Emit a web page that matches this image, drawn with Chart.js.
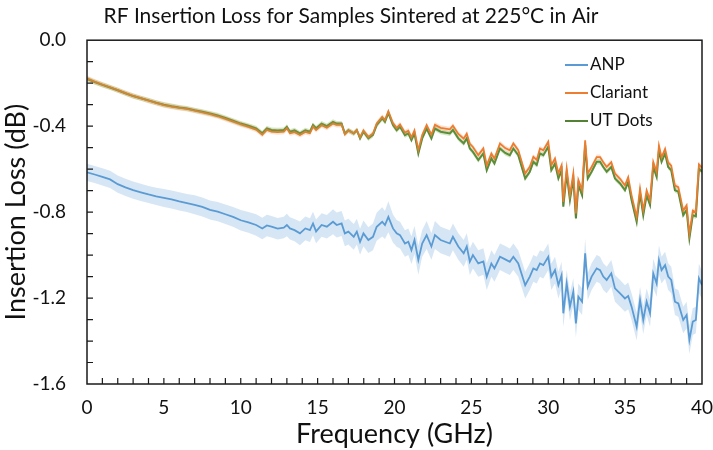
<!DOCTYPE html>
<html>
<head>
<meta charset="utf-8">
<script src="https://cdn.jsdelivr.net/npm/chart.js@4.4.1/dist/chart.umd.min.js"></script>
<style>
  html, body { margin: 0; padding: 0; background: #fff; }
  #wrap { width: 713px; height: 450px; }
</style>
</head>
<body>
<div id="wrap"><canvas id="lossChart"></canvas></div>
<script>
// frequency points (GHz)
const freq = [
  0, 0.5, 1, 1.5, 2, 2.5, 3, 3.5, 4, 4.5,
  5, 5.5, 6, 6.5, 7, 7.5, 8, 8.5, 9, 9.5,
  10, 10.5, 11, 11.4, 11.7, 12, 12.4, 12.8, 13, 13.2,
  13.5, 13.85, 14.2, 14.5, 14.7, 14.9, 15.26, 15.6, 16, 16.24,
  16.56, 16.77, 17, 17.35, 17.55, 17.76, 17.98, 18.3, 18.6, 18.84,
  19.2, 19.38, 19.6, 19.9, 20.14, 20.36, 20.68, 20.9, 21.1, 21.3,
  21.55, 21.8, 22.09, 22.4, 22.63, 23, 23.6, 23.8, 24.15, 24.5,
  24.7, 24.9, 25.1, 25.45, 25.78, 26, 26.3, 26.5, 26.86, 27.2,
  27.5, 27.73, 28.05, 28.5, 28.8, 29.03, 29.25, 29.46, 29.68, 30,
  30.2, 30.44, 30.66, 30.87, 30.98, 31.2, 31.41, 31.63, 31.8, 31.96,
  32.2, 32.4, 32.57, 32.82, 33.15, 33.37, 33.58, 33.8, 34.1, 34.34,
  34.67, 34.99, 35.2, 35.42, 35.75, 35.97, 36.18, 36.4, 36.62, 36.83,
  37.05, 37.2, 37.37, 37.6, 37.8, 38, 38.24, 38.46, 38.78, 39,
  39.18, 39.4, 39.6, 39.8, 40
];

const anp = [
  -0.615, -0.625, -0.636, -0.648, -0.670, -0.685, -0.698, -0.708, -0.718, -0.727,
  -0.734, -0.741, -0.750, -0.758, -0.766, -0.776, -0.790, -0.798, -0.810, -0.822,
  -0.838, -0.848, -0.860, -0.876, -0.862, -0.868, -0.877, -0.872, -0.860, -0.876,
  -0.884, -0.899, -0.876, -0.884, -0.853, -0.890, -0.860, -0.868, -0.845, -0.860,
  -0.853, -0.899, -0.891, -0.915, -0.891, -0.938, -0.899, -0.930, -0.915, -0.868,
  -0.845, -0.860, -0.822, -0.876, -0.899, -0.907, -0.946, -0.938, -0.977, -0.930,
  -1.023, -0.946, -0.907, -0.960, -0.907, -0.930, -0.946, -0.915, -0.960, -0.992,
  -0.960, -1.031, -1.000, -1.039, -1.030, -1.101, -1.039, -1.062, -1.008, -1.020,
  -1.031, -1.008, -1.039, -1.140, -1.100, -1.062, -1.070, -1.039, -1.047, -1.008,
  -1.101, -1.070, -1.140, -1.093, -1.271, -1.132, -1.240, -1.170, -1.318, -1.194,
  -1.217, -0.992, -1.147, -1.100, -1.062, -1.070, -1.100, -1.116, -1.085, -1.155,
  -1.178, -1.202, -1.190, -1.240, -1.333, -1.209, -1.302, -1.217, -1.271, -1.085,
  -1.132, -1.023, -1.070, -1.047, -1.100, -1.116, -1.217, -1.225, -1.302, -1.279,
  -1.395, -1.310, -1.302, -1.108, -1.140
];

// half width of the shaded ANP band
const anpSpread = [
  0.040, 0.040, 0.040, 0.040, 0.040, 0.040, 0.040, 0.040, 0.040, 0.040,
  0.042, 0.042, 0.042, 0.042, 0.044, 0.044, 0.044, 0.045, 0.045, 0.046,
  0.048, 0.048, 0.050, 0.050, 0.050, 0.050, 0.050, 0.050, 0.052, 0.052,
  0.052, 0.055, 0.055, 0.055, 0.055, 0.055, 0.055, 0.055, 0.058, 0.058,
  0.058, 0.060, 0.060, 0.060, 0.060, 0.060, 0.060, 0.060, 0.062, 0.065,
  0.068, 0.065, 0.072, 0.065, 0.062, 0.062, 0.062, 0.062, 0.065, 0.065,
  0.068, 0.062, 0.065, 0.062, 0.065, 0.062, 0.062, 0.062, 0.062, 0.062,
  0.062, 0.062, 0.062, 0.062, 0.062, 0.062, 0.062, 0.062, 0.062, 0.062,
  0.062, 0.062, 0.062, 0.062, 0.062, 0.062, 0.062, 0.062, 0.062, 0.062,
  0.062, 0.062, 0.062, 0.062, 0.065, 0.062, 0.065, 0.062, 0.065, 0.062,
  0.062, 0.068, 0.062, 0.062, 0.062, 0.062, 0.062, 0.062, 0.062, 0.062,
  0.062, 0.062, 0.062, 0.062, 0.065, 0.062, 0.065, 0.062, 0.062, 0.068,
  0.062, 0.068, 0.062, 0.062, 0.062, 0.062, 0.062, 0.062, 0.062, 0.062,
  0.065, 0.062, 0.062, 0.068, 0.065
];

const clariant = [
  -0.178, -0.193, -0.207, -0.219, -0.232, -0.246, -0.259, -0.270, -0.281, -0.292,
  -0.302, -0.309, -0.315, -0.320, -0.328, -0.336, -0.344, -0.354, -0.366, -0.379,
  -0.392, -0.403, -0.416, -0.440, -0.417, -0.425, -0.428, -0.426, -0.410, -0.433,
  -0.428, -0.441, -0.427, -0.433, -0.402, -0.418, -0.396, -0.407, -0.388, -0.394,
  -0.393, -0.438, -0.421, -0.433, -0.418, -0.452, -0.420, -0.450, -0.434, -0.388,
  -0.357, -0.372, -0.331, -0.386, -0.408, -0.392, -0.430, -0.421, -0.452, -0.420,
  -0.512, -0.441, -0.395, -0.440, -0.394, -0.408, -0.415, -0.398, -0.436, -0.458,
  -0.435, -0.482, -0.497, -0.535, -0.504, -0.582, -0.527, -0.551, -0.481, -0.502,
  -0.512, -0.481, -0.512, -0.620, -0.589, -0.543, -0.557, -0.504, -0.512, -0.473,
  -0.582, -0.551, -0.620, -0.582, -0.752, -0.597, -0.721, -0.620, -0.806, -0.651,
  -0.698, -0.466, -0.620, -0.590, -0.544, -0.544, -0.568, -0.590, -0.568, -0.621,
  -0.645, -0.676, -0.638, -0.722, -0.823, -0.691, -0.792, -0.699, -0.745, -0.567,
  -0.614, -0.491, -0.545, -0.506, -0.569, -0.584, -0.677, -0.684, -0.793, -0.769,
  -0.901, -0.793, -0.800, -0.578, -0.594
];

const utDots = [
  -0.180, -0.195, -0.208, -0.220, -0.233, -0.247, -0.260, -0.270, -0.280, -0.291,
  -0.300, -0.307, -0.313, -0.318, -0.326, -0.333, -0.341, -0.350, -0.362, -0.375,
  -0.388, -0.398, -0.410, -0.433, -0.410, -0.418, -0.420, -0.418, -0.403, -0.426,
  -0.420, -0.434, -0.419, -0.426, -0.395, -0.410, -0.388, -0.400, -0.380, -0.388,
  -0.388, -0.434, -0.419, -0.434, -0.419, -0.457, -0.426, -0.457, -0.441, -0.395,
  -0.364, -0.380, -0.338, -0.395, -0.419, -0.403, -0.442, -0.434, -0.465, -0.434,
  -0.527, -0.457, -0.411, -0.457, -0.411, -0.426, -0.434, -0.418, -0.457, -0.480,
  -0.457, -0.504, -0.520, -0.558, -0.527, -0.605, -0.550, -0.574, -0.504, -0.525,
  -0.535, -0.504, -0.535, -0.643, -0.612, -0.566, -0.580, -0.527, -0.535, -0.496,
  -0.605, -0.574, -0.643, -0.605, -0.775, -0.620, -0.744, -0.643, -0.829, -0.674,
  -0.721, -0.488, -0.643, -0.612, -0.566, -0.566, -0.590, -0.612, -0.590, -0.643,
  -0.667, -0.698, -0.660, -0.744, -0.845, -0.713, -0.814, -0.721, -0.767, -0.589,
  -0.636, -0.512, -0.566, -0.527, -0.590, -0.605, -0.698, -0.705, -0.814, -0.790,
  -0.922, -0.814, -0.820, -0.597, -0.612
];

// the thin bands around Clariant and UT Dots
const thinSpread = 0.012;

const seriesNames = ["ANP", "Clariant", "UT Dots"];
const seriesColors = ["#5b9bd5", "#ed7d31", "#548235"];
const bandColors = ["rgba(91, 155, 213, 0.25)", "rgba(237, 125, 49, 0.22)", "rgba(112, 173, 71, 0.3)"];

const yTickValues = [0, -0.4, -0.8, -1.2, -1.6];
const xTickValues = [0, 5, 10, 15, 20, 25, 30, 35, 40];

const FONT = "Lato, 'Open Sans', sans-serif";

function pts(vals, off) {
  return freq.map((f, i) => ({ x: f, y: vals[i] + (off ? off[i] : 0) }));
}

function bandPair(vals, spread, color) {
  const lo = spread.map((s) => -s);
  return [
    { data: pts(vals, lo), borderWidth: 0, pointRadius: 0, fill: false, backgroundColor: color },
    { data: pts(vals, spread), borderWidth: 0, pointRadius: 0, fill: "-1", backgroundColor: color },
  ];
}

const thinArr = freq.map(() => thinSpread);

const datasets = [
  ...bandPair(anp, anpSpread, bandColors[0]),
  ...bandPair(clariant, thinArr, bandColors[1]),
  ...bandPair(utDots, thinArr, bandColors[2]),
  { label: seriesNames[0], data: pts(anp), borderColor: seriesColors[0], borderWidth: 1.8, pointRadius: 0, fill: false },
  { label: seriesNames[1], data: pts(clariant), borderColor: seriesColors[1], borderWidth: 1.8, pointRadius: 0, fill: false },
  { label: seriesNames[2], data: pts(utDots), borderColor: seriesColors[2], borderWidth: 2, pointRadius: 0, fill: false },
];

// frame, inward ticks and legend
const framePlugin = {
  id: "frame",
  afterDatasetsDraw(chart) {
    const { ctx, chartArea: a, scales } = chart;
    ctx.save();
    ctx.strokeStyle = "#1a1a1a";
    ctx.lineWidth = 1.5;
    ctx.strokeRect(a.left, a.top, a.right - a.left, a.bottom - a.top);

    ctx.lineWidth = 1.2;
    ctx.beginPath();
    for (let f = 1; f < 40; f++) {
      const px = scales.x.getPixelForValue(f);
      ctx.moveTo(px, a.bottom);
      ctx.lineTo(px, a.bottom - 6);
    }
    for (let k = 1; k < 16; k++) {
      const py = scales.y.getPixelForValue(-k / 10);
      ctx.moveTo(a.left, py);
      ctx.lineTo(a.left + 6, py);
    }
    ctx.stroke();

    ctx.font = "17px " + FONT;
    ctx.textBaseline = "middle";
    ctx.fillStyle = "#111";
    const legendY = [65, 93, 121];
    seriesNames.forEach((name, i) => {
      ctx.strokeStyle = seriesColors[i];
      ctx.lineWidth = 2;
      ctx.beginPath();
      ctx.moveTo(565, legendY[i]);
      ctx.lineTo(588, legendY[i]);
      ctx.stroke();
      ctx.fillText(name, 590, legendY[i]);
    });
    ctx.restore();
  },
};

new Chart(document.getElementById("lossChart"), {
  type: "line",
  data: { datasets },
  plugins: [framePlugin],
  options: {
    responsive: true,
    maintainAspectRatio: false,
    animation: false,
    layout: { padding: { top: 0, right: 11, bottom: 0, left: 0 } },
    plugins: {
      legend: { display: false },
      tooltip: { enabled: false },
      title: {
        display: true,
        text: "RF Insertion Loss for Samples Sintered at 225°C in Air",
        color: "#111",
        font: { family: FONT, size: 21, weight: "normal" },
        padding: { top: 4, bottom: 11 },
      },
    },
    scales: {
      x: {
        type: "linear",
        min: 0,
        max: 40,
        afterFit: (s) => { s.height = 66; s.paddingLeft = 0; s.paddingRight = 0; },
        afterBuildTicks: (s) => { s.ticks = xTickValues.map((v) => ({ value: v })); },
        grid: { display: false },
        border: { display: false },
        ticks: { color: "#111", padding: 4, maxRotation: 0, font: { family: FONT, size: 19 } },
        title: { display: true, text: "Frequency (GHz)", color: "#111", padding: 0, font: { family: FONT, size: 27 } },
      },
      y: {
        min: -1.6,
        max: 0,
        afterFit: (s) => { s.width = 87; s.paddingTop = 0; s.paddingBottom = 0; },
        afterBuildTicks: (s) => { s.ticks = yTickValues.map((v) => ({ value: v })); },
        grid: { display: false },
        border: { display: false },
        ticks: { color: "#111", padding: 13, font: { family: FONT, size: 19 }, callback: (v) => v.toFixed(1) },
        title: { display: true, text: "Insertion Loss (dB)", color: "#111", padding: 0, font: { family: FONT, size: 27 } },
      },
    },
  },
});
</script>
</body>
</html>
